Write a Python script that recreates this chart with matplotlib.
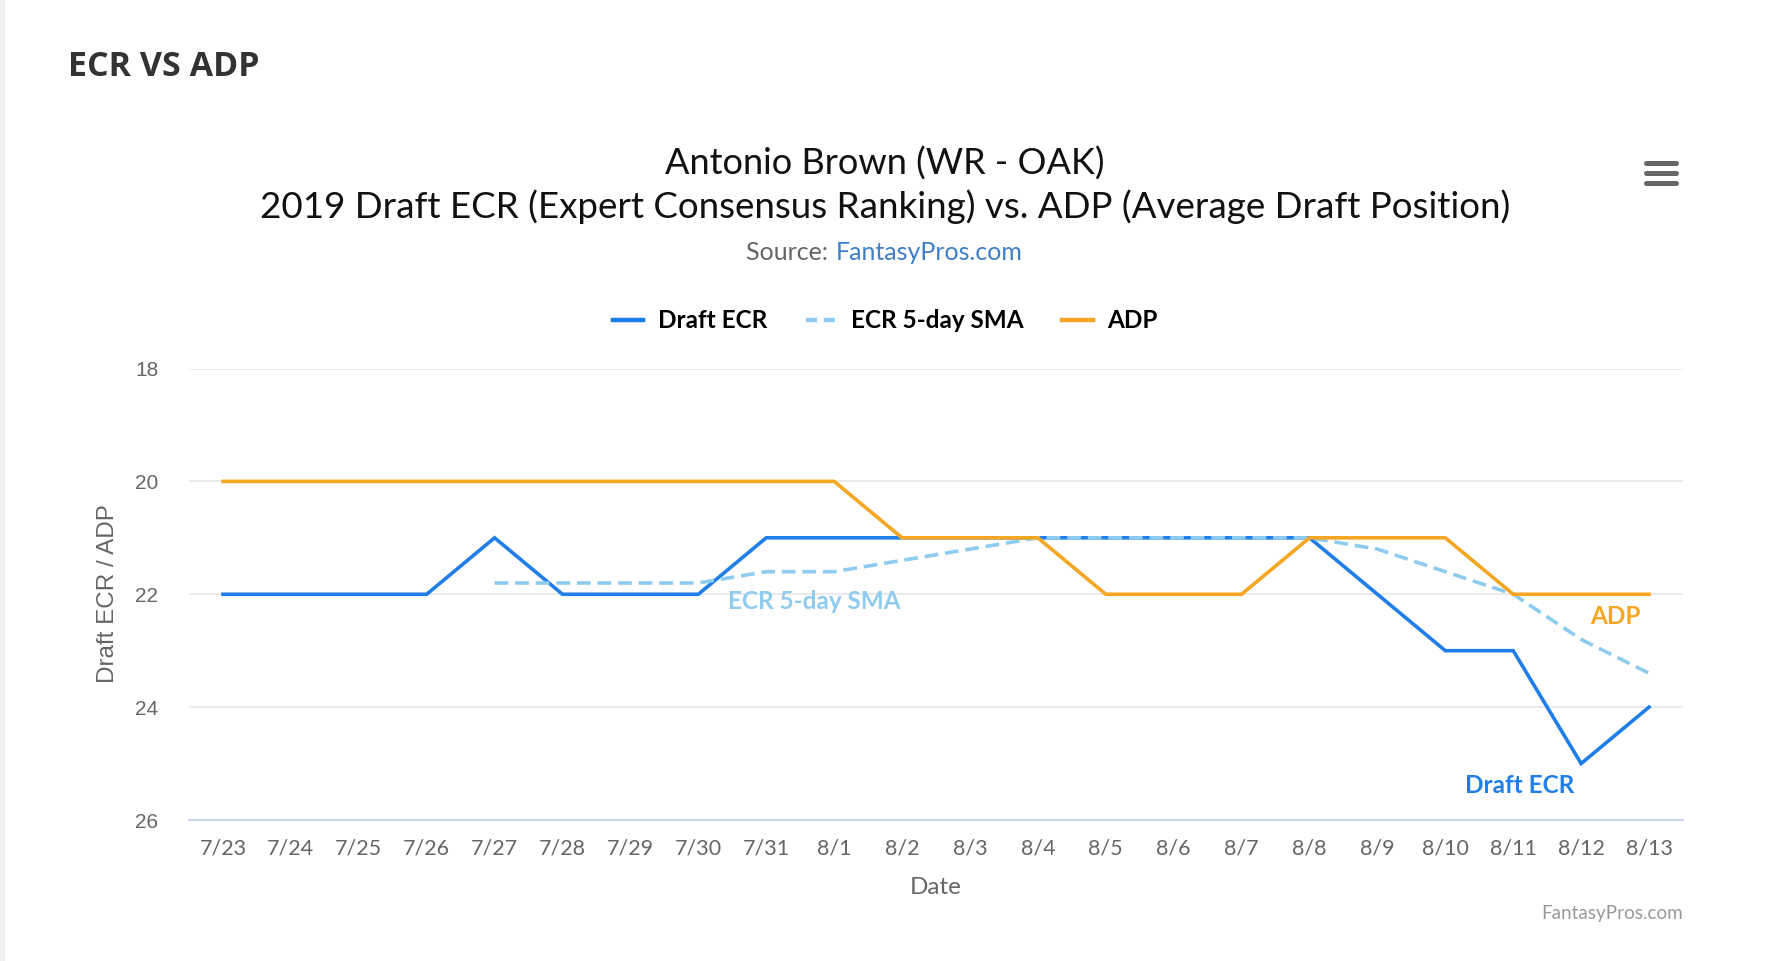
import numpy as np
import matplotlib
matplotlib.use("Agg")
import matplotlib.pyplot as plt
import matplotlib.transforms as mtransforms
from matplotlib.lines import Line2D
from matplotlib.patches import Rectangle

# chart data
dates = ["7/23", "7/24", "7/25", "7/26", "7/27", "7/28", "7/29", "7/30", "7/31", "8/1", "8/2",
         "8/3", "8/4", "8/5", "8/6", "8/7", "8/8", "8/9", "8/10", "8/11", "8/12", "8/13"]
draft_ecr = [22, 22, 22, 22, 21, 22, 22, 22, 21, 21, 21, 21, 21, 21, 21, 21, 21, 22, 23, 23, 25, 24]
ecr_sma = [np.nan, np.nan, np.nan, np.nan, 21.8, 21.8, 21.8, 21.8, 21.6, 21.6, 21.4,
           21.2, 21.0, 21.0, 21.0, 21.0, 21.0, 21.2, 21.6, 22.0, 22.8, 23.4]
adp = [20, 20, 20, 20, 20, 20, 20, 20, 20, 20, 21, 21, 21, 22, 22, 22, 21, 21, 21, 22, 22, 22]
y_ticks = [18, 20, 22, 24, 26]

BLUE = "#1f7ee8"
LIGHT = "#8ecbee"
ORANGE = "#f5a623"

W, H = 1778, 961
fig = plt.figure(figsize=(W / 100, H / 100), dpi=100)
fig.patches.append(Rectangle((0, 0), 4 / W, 1, transform=fig.transFigure, color="#f0f0f0", zorder=0))

ax = fig.add_axes([189 / W, (H - 820) / H, 1494 / W, 451.5 / H])
x = np.arange(len(dates))
ax.plot(x, draft_ecr, color=BLUE, lw=2.6, solid_joinstyle="miter", zorder=3)
ax.plot(x, ecr_sma, color=LIGHT, lw=2.6, dashes=(3.8, 1.9), zorder=4)
ax.plot(x, adp, color=ORANGE, lw=2.6, zorder=5)

ax.set_xlim(-0.5, len(dates) - 0.5)
ax.set_ylim(26, 18)
ax.set_yticks(y_ticks)
ax.set_xticks(x)
ax.set_xticklabels(dates, family="Lato", fontsize=15.5, color="#666666")
# y labels sit a few pixels below their grid lines in the reference
shift = mtransforms.ScaledTranslation(0, -3 / 100, fig.dpi_scale_trans)
for lab in ax.get_yticklabels():
    lab.set_family("Liberation Sans")
    lab.set_fontsize(15)
    lab.set_color("#666666")
    lab.set_transform(lab.get_transform() + shift)
ax.tick_params(axis="y", length=0, pad=22)
ax.tick_params(axis="x", length=0, pad=13)
ax.yaxis.grid(True, color="#e6e6e6", lw=1.2)
ax.set_axisbelow(True)
for s in ["top", "right", "left"]:
    ax.spines[s].set_visible(False)
ax.spines["bottom"].set_color("#ccd6eb")
ax.spines["bottom"].set_linewidth(1.5)

# series labels inside the plot
lab_font = {"family": "Lato", "weight": "bold", "size": 17.5}
ax.text(8.71, 22.12, "ECR 5-day SMA", color=LIGHT, ha="center", va="center", fontdict=lab_font)
ax.text(20.51, 22.40, "ADP", color=ORANGE, ha="center", va="center", fontdict=lab_font)
ax.text(19.10, 25.38, "Draft ECR", color=BLUE, ha="center", va="center", fontdict=lab_font)

# titles
fig.text(68 / W, 1 - 67 / H, "ECR VS ADP", family="Open Sans", weight="bold", fontsize=24.5,
         color="#333333", ha="left", va="center")
fig.text(885 / W, 1 - 164 / H, "Antonio Brown (WR - OAK)", family="Lato", fontsize=26,
         color="#111111", ha="center", va="center")
fig.text(885 / W, 1 - 207 / H,
         "2019 Draft ECR (Expert Consensus Ranking) vs. ADP (Average Draft Position)",
         family="Lato", fontsize=26.5, color="#111111", ha="center", va="center")
fig.text(834 / W, 1 - 252 / H, "Source: ", family="Lato", fontsize=18, color="#666666",
         ha="right", va="center")
fig.text(836 / W, 1 - 252 / H, "FantasyPros.com", family="Lato", fontsize=18, color="#3d7fc8",
         ha="left", va="center")

# legend
handles = [Line2D([], [], color=BLUE, lw=3.2),
           Line2D([], [], color=LIGHT, lw=3.2, dashes=(2.5, 1.5)),
           Line2D([], [], color=ORANGE, lw=3.2)]
fig.legend(handles, ["Draft ECR", "ECR 5-day SMA", "ADP"], loc="center",
           bbox_to_anchor=(885 / W, 1 - 321 / H), ncol=3, frameon=False,
           prop={"family": "Lato", "weight": "bold", "size": 17.5},
           handlelength=1.25, handletextpad=0.6, columnspacing=1.6)

# axis titles
fig.text(108 / W, 1 - 594 / H, "Draft ECR / ADP", family="Liberation Sans", fontsize=17.5,
         color="#666666", rotation=90, ha="center", va="center")
fig.text(936 / W, 1 - 887 / H, "Date", family="Lato", fontsize=17.5, color="#666666",
         ha="center", va="center")
fig.text(1683 / W, 1 - 913 / H, "FantasyPros.com", family="Lato", fontsize=13.6, color="#999999",
         ha="right", va="center")

# menu icon
for yy in [162.7, 172.7, 182.7]:
    fig.add_artist(Line2D([1646 / W, 1676 / W], [1 - yy / H, 1 - yy / H], color="#666666",
                          lw=3.6, solid_capstyle="round", transform=fig.transFigure))

fig.savefig("out.png", dpi=100, facecolor="white")
